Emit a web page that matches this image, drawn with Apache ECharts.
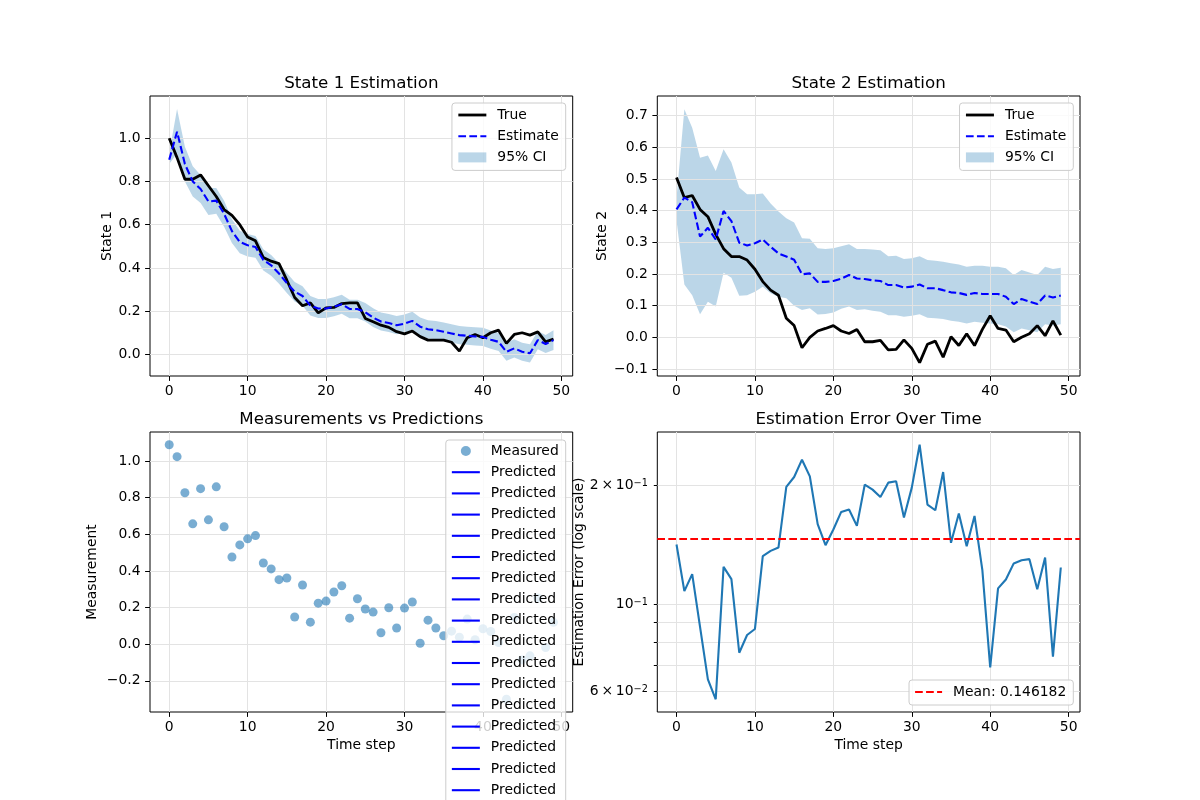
<!DOCTYPE html>
<html>
<head>
<meta charset="utf-8">
<script src="https://cdn.jsdelivr.net/npm/echarts@6/dist/echarts.min.js"></script>
<style>
  html, body { margin: 0; padding: 0; background: #fff; }
  #chart { width: 1200px; height: 800px; }
</style>
</head>
<body>
<div id="chart"></div>
<script>
// time axis
var steps = [0, 1, 2, 3, 4, 5, 6, 7, 8, 9, 10, 11, 12, 13, 14, 15, 16, 17, 18, 19,
  20, 21, 22, 23, 24, 25, 26, 27, 28, 29, 30, 31, 32, 33, 34, 35, 36, 37, 38, 39,
  40, 41, 42, 43, 44, 45, 46, 47, 48, 49];

// state 1
var state1True = [1.00, 0.91, 0.81, 0.81, 0.83, 0.78, 0.73, 0.67, 0.643, 0.60,
  0.543, 0.525, 0.448, 0.431, 0.42, 0.343, 0.263, 0.225, 0.238, 0.192,
  0.215, 0.217, 0.235, 0.238, 0.238, 0.166, 0.151, 0.135, 0.125, 0.105,
  0.095, 0.108, 0.082, 0.066, 0.066, 0.066, 0.056, 0.015, 0.077, 0.092,
  0.077, 0.10, 0.112, 0.051, 0.092, 0.10, 0.089, 0.104, 0.058, 0.071];
var state1Est = [0.90, 1.03, 0.88, 0.80, 0.765, 0.707, 0.711, 0.65, 0.57, 0.52,
  0.505, 0.497, 0.437, 0.412, 0.374, 0.33, 0.29, 0.27, 0.225, 0.212,
  0.212, 0.22, 0.232, 0.21, 0.21, 0.195, 0.17, 0.152, 0.145, 0.135,
  0.142, 0.155, 0.128, 0.116, 0.112, 0.105, 0.097, 0.089, 0.086, 0.083,
  0.081, 0.068, 0.058, 0.012, 0.028, 0.012, 0.005, 0.066, 0.048, 0.066];
var state1Lower = [0.88, 0.93, 0.80, 0.73, 0.70, 0.645, 0.65, 0.59, 0.515, 0.468,
  0.453, 0.447, 0.388, 0.364, 0.327, 0.284, 0.245, 0.225, 0.18, 0.168,
  0.168, 0.176, 0.188, 0.167, 0.167, 0.152, 0.127, 0.11, 0.103, 0.093,
  0.10, 0.113, 0.086, 0.074, 0.07, 0.063, 0.055, 0.047, 0.044, 0.041,
  0.039, 0.026, 0.016, -0.03, -0.014, -0.03, -0.037, 0.024, 0.006, 0.02];
var state1Upper = [0.93, 1.135, 0.96, 0.87, 0.83, 0.77, 0.77, 0.71, 0.625, 0.572,
  0.557, 0.547, 0.486, 0.46, 0.421, 0.376, 0.335, 0.315, 0.27, 0.256,
  0.256, 0.264, 0.276, 0.253, 0.253, 0.238, 0.213, 0.194, 0.187, 0.177,
  0.184, 0.197, 0.17, 0.158, 0.154, 0.147, 0.139, 0.131, 0.128, 0.125,
  0.123, 0.11, 0.10, 0.054, 0.07, 0.054, 0.047, 0.108, 0.09, 0.112];

// state 2
var state2True = [0.505, 0.441, 0.448, 0.404, 0.381, 0.325, 0.28, 0.255, 0.255, 0.244,
  0.215, 0.176, 0.149, 0.133, 0.06, 0.037, -0.033, 0.0, 0.02, 0.028,
  0.037, 0.02, 0.012, 0.025, -0.014, -0.014, -0.01, -0.04, -0.038, -0.008,
  -0.035, -0.08, -0.022, -0.012, -0.063, 0.002, -0.026, 0.011, -0.026, 0.025,
  0.068, 0.028, 0.023, -0.014, 0.0, 0.011, 0.037, 0.005, 0.052, 0.007];
var state2Est = [0.404, 0.441, 0.427, 0.318, 0.346, 0.309, 0.399, 0.367, 0.299, 0.29,
  0.297, 0.309, 0.286, 0.265, 0.255, 0.245, 0.199, 0.202, 0.175, 0.175,
  0.178, 0.185, 0.197, 0.186, 0.184, 0.18, 0.178, 0.165, 0.165, 0.157,
  0.16, 0.167, 0.155, 0.155, 0.149, 0.142, 0.14, 0.134, 0.14, 0.137,
  0.137, 0.137, 0.128, 0.105, 0.121, 0.113, 0.105, 0.132, 0.126, 0.132];
var state2Lower = [0.37, 0.167, 0.133, 0.073, 0.112, 0.097, 0.204, 0.188, 0.131, 0.133,
  0.144, 0.16, 0.139, 0.128, 0.123, 0.10, 0.086, 0.092, 0.072, 0.074,
  0.078, 0.09, 0.097, 0.086, 0.089, 0.084, 0.081, 0.07, 0.07, 0.065,
  0.068, 0.073, 0.062, 0.06, 0.058, 0.052, 0.049, 0.044, 0.049, 0.046,
  0.044, 0.041, 0.034, 0.016, 0.028, 0.022, 0.016, 0.041, 0.037, 0.041];
var state2Upper = [0.44, 0.72, 0.662, 0.567, 0.574, 0.525, 0.594, 0.552, 0.473, 0.452,
  0.452, 0.454, 0.423, 0.397, 0.376, 0.363, 0.313, 0.311, 0.281, 0.279,
  0.281, 0.288, 0.294, 0.279, 0.279, 0.277, 0.275, 0.256, 0.258, 0.247,
  0.25, 0.256, 0.244, 0.242, 0.239, 0.234, 0.23, 0.223, 0.226, 0.226,
  0.223, 0.223, 0.218, 0.197, 0.213, 0.205, 0.197, 0.223, 0.216, 0.22];

// measurements
var measured = [1.089, 1.024, 0.827, 0.657, 0.849, 0.679, 0.859, 0.641, 0.476, 0.542,
  0.575, 0.593, 0.443, 0.411, 0.352, 0.361, 0.148, 0.323, 0.12, 0.224,
  0.235, 0.285, 0.319, 0.142, 0.248, 0.192, 0.175, 0.062, 0.199, 0.088,
  0.197, 0.23, 0.005, 0.131, 0.088, 0.046, 0.071, 0.038, 0.137, 0.024,
  0.084, 0.069, 0.009, -0.301, 0.146, -0.086, -0.064, 0.252, -0.018, 0.119];
var predictedCount = 50;

// estimation error
var estError = [0.1416, 0.1079, 0.1191, 0.0876, 0.0645, 0.0574, 0.1243, 0.1157, 0.0753, 0.0835,
  0.0865, 0.1323, 0.1364, 0.1391, 0.1981, 0.2099, 0.2322, 0.2107, 0.1594, 0.141,
  0.1545, 0.1712, 0.1736, 0.1578, 0.2007, 0.195, 0.1868, 0.2031, 0.2047, 0.1657,
  0.1973, 0.2534, 0.1787, 0.1729, 0.2161, 0.143, 0.1696, 0.1402, 0.1673, 0.1219,
  0.0691, 0.1096, 0.1154, 0.1268, 0.1292, 0.13, 0.109, 0.1312, 0.0736, 0.1238];
var errorMean = 0.146182;

// ticks
var xTicks = [0, 10, 20, 30, 40, 50];
var state1Ticks = [0, 0.2, 0.4, 0.6, 0.8, 1.0];
var state2Ticks = [-0.1, 0, 0.1, 0.2, 0.3, 0.4, 0.5, 0.6, 0.7];
var measTicks = [-0.2, 0, 0.2, 0.4, 0.6, 0.8, 1.0];
var errTicks = [0.06, 0.07, 0.08, 0.09, 0.1, 0.2];
var errLabelTicks = [0.06, 0.1, 0.2];

var font = 'DejaVu Sans';
var ciColor = 'rgba(31,119,180,0.3)';
var meanDash = [7.7, 3.3];

function pairs(ys) {
  return ys.map(function (y, i) { return [steps[i], y]; });
}
function numLabel(v) {
  return (v < 0 ? '\u2212' : '') + Math.abs(v).toFixed(1);
}

var gridLine = { show: true, lineStyle: { color: '#e3e3e3', width: 1 } };
var tickStyle = { color: '#000', width: 1 };
var labelText = { fontSize: 13.9, color: '#000', fontFamily: font };

function xAxisFor(i, name) {
  return {
    type: 'value', gridIndex: i, min: -2.45, max: 51.45,
    name: name || '', nameLocation: 'middle', nameGap: 26,
    nameTextStyle: labelText,
    axisLine: { show: false, onZero: false },
    axisTick: { show: true, length: 4.9, customValues: xTicks, lineStyle: tickStyle },
    axisLabel: Object.assign({ customValues: xTicks, margin: 8.5 }, labelText),
    splitLine: gridLine
  };
}
function yAxisFor(i, min, max, ticks, name, gap) {
  return {
    type: 'value', gridIndex: i, min: min, max: max,
    name: name, nameLocation: 'middle', nameGap: gap,
    nameTextStyle: labelText,
    axisLine: { show: false, onZero: false },
    axisTick: { show: true, length: 4.9, customValues: ticks, lineStyle: tickStyle },
    axisLabel: Object.assign({ customValues: ticks, margin: 9.5, formatter: numLabel }, labelText),
    splitLine: gridLine
  };
}

var gridBox = { show: true, borderColor: '#000', borderWidth: 1, backgroundColor: 'transparent', containLabel: false };
var titleText = { fontSize: 16.7, fontWeight: 'normal', color: '#000', fontFamily: font, lineHeight: 20 };
var legendBase = {
  orient: 'vertical', itemWidth: 28, itemHeight: 10, itemGap: 7.2,
  padding: [5, 7, 6, 5], backgroundColor: 'rgba(255,255,255,0.8)',
  borderColor: '#cccccc', borderWidth: 1, borderRadius: 3,
  textStyle: { fontSize: 13.9, color: '#000', fontFamily: font, lineHeight: 14, padding: [0, 0, 0, 6] }
};
var stateLegendData = [
  { name: 'True', itemStyle: { opacity: 0 }, lineStyle: { color: '#000', width: 2.8, type: 'solid' } },
  { name: 'Estimate', itemStyle: { opacity: 0 }, lineStyle: { color: '#0000ff', width: 2.1, type: [7.7, 3.3] } },
  { name: '95% CI', icon: 'rect', itemStyle: { color: ciColor, opacity: 1 } }
];

var predictedNames = [];
for (var k = 1; k <= predictedCount; k++) predictedNames.push('Predicted ' + k);

// confidence band drawn as one polygon through the axis scales
function bandSeries(idx, lower, upper) {
  return {
    name: '95% CI', type: 'custom', xAxisIndex: idx, yAxisIndex: idx, z: -1, silent: true,
    data: steps.map(function (t, i) { return [t, lower[i], upper[i]]; }),
    encode: { x: 0, y: [1, 2] },
    itemStyle: { color: ciColor },
    renderItem: function (params, api) {
      if (params.dataIndexInside !== 0) return null;
      var top = [], bottom = [];
      for (var i = 0; i < steps.length; i++) {
        top.push(api.coord([steps[i], upper[i]]));
        bottom.unshift(api.coord([steps[i], lower[i]]));
      }
      return { type: 'polygon', shape: { points: top.concat(bottom) }, style: { fill: ciColor } };
    }
  };
}

function stateSeries(idx, lower, upper, truth, est) {
  return [
    bandSeries(idx, lower, upper),
    { name: 'True', type: 'line', xAxisIndex: idx, yAxisIndex: idx, data: pairs(truth),
      symbol: 'none', itemStyle: { color: '#000' }, lineStyle: { color: '#000', width: 2.8 } },
    { name: 'Estimate', type: 'line', xAxisIndex: idx, yAxisIndex: idx, data: pairs(est),
      symbol: 'none', itemStyle: { color: '#0000ff' },
      lineStyle: { color: '#0000ff', width: 2.1, type: [7.7, 3.3] } }
  ];
}

var series = []
  .concat(stateSeries(0, state1Lower, state1Upper, state1True, state1Est))
  .concat(stateSeries(1, state2Lower, state2Upper, state2True, state2Est));

series.push({
  name: 'Measured', type: 'scatter', xAxisIndex: 2, yAxisIndex: 2, data: pairs(measured),
  symbol: 'circle', symbolSize: 9,
  itemStyle: { color: '#1f77b4', opacity: 0.6 }
});
predictedNames.forEach(function (n) {
  series.push({ name: n, type: 'line', xAxisIndex: 2, yAxisIndex: 2, data: [],
    symbol: 'none', itemStyle: { color: '#0000ff' }, lineStyle: { color: '#0000ff', width: 2.1 } });
});

series.push({
  name: 'Error', type: 'line', xAxisIndex: 3, yAxisIndex: 3, data: pairs(estError),
  symbol: 'none', itemStyle: { color: '#1f77b4' }, lineStyle: { color: '#1f77b4', width: 2.1 }
});
series.push({
  name: 'Mean: 0.146182', type: 'line', xAxisIndex: 3, yAxisIndex: 3, data: [],
  symbol: 'none', itemStyle: { color: '#ff0000' }, lineStyle: { color: '#ff0000', width: 2.1, type: meanDash },
  markLine: {
    silent: true, symbol: 'none', precision: 6, label: { show: false },
    lineStyle: { color: '#ff0000', width: 2.1, type: meanDash },
    data: [{ yAxis: errorMean }]
  }
});

function logLabel(v) {
  var k = Math.round(v * 100);
  if (k === 10) return '{m|10}{s|\u22121}';
  if (k === 20) return '{m|2\u2009\u00d7\u200910}{s|\u22121}';
  if (k === 6) return '{m|6\u2009\u00d7\u200910}{s|\u22122}';
  return '';
}

var chart = echarts.init(document.getElementById('chart'), null, { renderer: 'canvas' });
chart.setOption({
  animation: false,
  backgroundColor: '#fff',
  textStyle: { fontFamily: font },
  title: [
    { text: 'State 1 Estimation', left: 361.35, top: 74, textAlign: 'center', padding: 0, textStyle: titleText },
    { text: 'State 2 Estimation', left: 868.65, top: 74, textAlign: 'center', padding: 0, textStyle: titleText },
    { text: 'Measurements vs Predictions', left: 361.35, top: 410, textAlign: 'center', padding: 0, textStyle: titleText },
    { text: 'Estimation Error Over Time', left: 868.65, top: 410, textAlign: 'center', padding: 0, textStyle: titleText }
  ],
  grid: [
    Object.assign({ left: 150, top: 96, width: 422.7, height: 280 }, gridBox),
    Object.assign({ left: 657.3, top: 96, width: 422.7, height: 280 }, gridBox),
    Object.assign({ left: 150, top: 432, width: 422.7, height: 280 }, gridBox),
    Object.assign({ left: 657.3, top: 432, width: 422.7, height: 280 }, gridBox)
  ],
  xAxis: [xAxisFor(0), xAxisFor(1), xAxisFor(2, 'Time step'), xAxisFor(3, 'Time step')],
  yAxis: [
    yAxisFor(0, -0.1, 1.195, state1Ticks, 'State 1', 36),
    yAxisFor(1, -0.1222, 0.7622, state2Ticks, 'State 2', 48),
    yAxisFor(2, -0.3705, 1.1585, measTicks, 'Measurement', 51),
    {
      type: 'log', logBase: 10, gridIndex: 3, min: 0.0533, max: 0.2729,
      name: 'Estimation Error (log scale)', nameLocation: 'middle', nameGap: 71,
      nameTextStyle: labelText,
      axisLine: { show: false, onZero: false },
      axisTick: { show: true, length: 3.5, customValues: errTicks, lineStyle: tickStyle },
      axisLabel: {
        customValues: errLabelTicks, margin: 9.5, formatter: logLabel,
        rich: {
          m: { fontSize: 13.9, color: '#000', fontFamily: font, lineHeight: 14, padding: [4, 0, 0, 0], verticalAlign: 'bottom' },
          s: { fontSize: 9.7, color: '#000', fontFamily: font, lineHeight: 10, verticalAlign: 'top' }
        }
      },
      splitLine: gridLine
    }
  ],
  legend: [
    Object.assign({}, legendBase, { right: 634.3, top: 103, data: stateLegendData }),
    Object.assign({}, legendBase, { right: 126.7, top: 103, data: stateLegendData }),
    Object.assign({}, legendBase, {
      right: 634.3, top: 440, height: 1500, padding: [4, 7, 6, 5],
      data: [{ name: 'Measured', icon: 'circle', itemStyle: { color: '#1f77b4', opacity: 0.6 } }].concat(
        predictedNames.map(function (n) {
          return { name: n, itemStyle: { opacity: 0 }, lineStyle: { color: '#0000ff', width: 2.1, type: 'solid' } };
        })),
      formatter: function (name) { return name.indexOf('Predicted') === 0 ? 'Predicted' : name; }
    }),
    Object.assign({}, legendBase, {
      right: 126.7, bottom: 95, itemWidth: 27,
      data: [{ name: 'Mean: 0.146182', itemStyle: { opacity: 0 }, lineStyle: { color: '#ff0000', width: 2.1, type: meanDash } }]
    })
  ],
  series: series
});
</script>
</body>
</html>
